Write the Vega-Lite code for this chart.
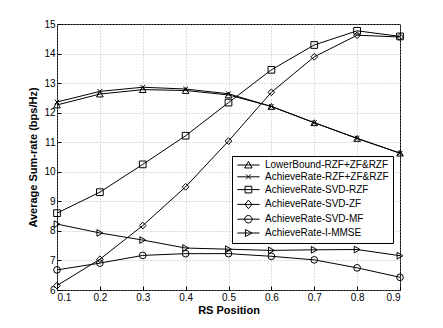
{
  "$schema": "https://vega.github.io/schema/vega-lite/v6.json",
  "width": 343,
  "height": 266,
  "autosize": {"type": "none"},
  "padding": {"left": 57, "top": 24, "right": 43, "bottom": 38},
  "background": "white",
  "config": {
    "font": "Liberation Sans",
    "view": {"stroke": "black", "strokeWidth": 1},
    "axis": {
      "labelFont": "Liberation Sans",
      "labelFontSize": 10,
      "labelColor": "black",
      "titleFont": "Liberation Sans",
      "titleFontSize": 11,
      "titleFontWeight": "bold",
      "titleColor": "black",
      "domain": false,
      "tickColor": "black",
      "tickSize": -4,
      "grid": true,
      "gridColor": "#aaaaaa",
      "gridDash": [1, 2],
      "gridWidth": 0.8
    }
  },
  "data": {
    "values": [
      {"x": 0.1, "s": "LowerBound-RZF+ZF&RZF", "y": 12.26},
      {"x": 0.2, "s": "LowerBound-RZF+ZF&RZF", "y": 12.63},
      {"x": 0.3, "s": "LowerBound-RZF+ZF&RZF", "y": 12.78},
      {"x": 0.4, "s": "LowerBound-RZF+ZF&RZF", "y": 12.75},
      {"x": 0.5, "s": "LowerBound-RZF+ZF&RZF", "y": 12.6},
      {"x": 0.6, "s": "LowerBound-RZF+ZF&RZF", "y": 12.21},
      {"x": 0.7, "s": "LowerBound-RZF+ZF&RZF", "y": 11.66},
      {"x": 0.8, "s": "LowerBound-RZF+ZF&RZF", "y": 11.13},
      {"x": 0.9, "s": "LowerBound-RZF+ZF&RZF", "y": 10.63},
      {"x": 0.1, "s": "AchieveRate-RZF+ZF&RZF", "y": 12.36},
      {"x": 0.2, "s": "AchieveRate-RZF+ZF&RZF", "y": 12.72},
      {"x": 0.3, "s": "AchieveRate-RZF+ZF&RZF", "y": 12.86},
      {"x": 0.4, "s": "AchieveRate-RZF+ZF&RZF", "y": 12.8},
      {"x": 0.5, "s": "AchieveRate-RZF+ZF&RZF", "y": 12.64},
      {"x": 0.6, "s": "AchieveRate-RZF+ZF&RZF", "y": 12.21},
      {"x": 0.7, "s": "AchieveRate-RZF+ZF&RZF", "y": 11.66},
      {"x": 0.8, "s": "AchieveRate-RZF+ZF&RZF", "y": 11.13},
      {"x": 0.9, "s": "AchieveRate-RZF+ZF&RZF", "y": 10.63},
      {"x": 0.1, "s": "AchieveRate-SVD-RZF", "y": 8.6},
      {"x": 0.2, "s": "AchieveRate-SVD-RZF", "y": 9.31},
      {"x": 0.3, "s": "AchieveRate-SVD-RZF", "y": 10.25},
      {"x": 0.4, "s": "AchieveRate-SVD-RZF", "y": 11.22},
      {"x": 0.5, "s": "AchieveRate-SVD-RZF", "y": 12.34},
      {"x": 0.6, "s": "AchieveRate-SVD-RZF", "y": 13.45},
      {"x": 0.7, "s": "AchieveRate-SVD-RZF", "y": 14.29},
      {"x": 0.8, "s": "AchieveRate-SVD-RZF", "y": 14.77},
      {"x": 0.9, "s": "AchieveRate-SVD-RZF", "y": 14.58},
      {"x": 0.1, "s": "AchieveRate-SVD-ZF", "y": 6.15},
      {"x": 0.2, "s": "AchieveRate-SVD-ZF", "y": 7.04},
      {"x": 0.3, "s": "AchieveRate-SVD-ZF", "y": 8.18},
      {"x": 0.4, "s": "AchieveRate-SVD-ZF", "y": 9.49},
      {"x": 0.5, "s": "AchieveRate-SVD-ZF", "y": 11.04},
      {"x": 0.6, "s": "AchieveRate-SVD-ZF", "y": 12.69},
      {"x": 0.7, "s": "AchieveRate-SVD-ZF", "y": 13.89},
      {"x": 0.8, "s": "AchieveRate-SVD-ZF", "y": 14.62},
      {"x": 0.9, "s": "AchieveRate-SVD-ZF", "y": 14.56},
      {"x": 0.1, "s": "AchieveRate-SVD-MF", "y": 6.68},
      {"x": 0.2, "s": "AchieveRate-SVD-MF", "y": 6.91},
      {"x": 0.3, "s": "AchieveRate-SVD-MF", "y": 7.17},
      {"x": 0.4, "s": "AchieveRate-SVD-MF", "y": 7.23},
      {"x": 0.5, "s": "AchieveRate-SVD-MF", "y": 7.23},
      {"x": 0.6, "s": "AchieveRate-SVD-MF", "y": 7.14},
      {"x": 0.7, "s": "AchieveRate-SVD-MF", "y": 7.02},
      {"x": 0.8, "s": "AchieveRate-SVD-MF", "y": 6.75},
      {"x": 0.9, "s": "AchieveRate-SVD-MF", "y": 6.43},
      {"x": 0.1, "s": "AchieveRate-I-MMSE", "y": 8.23},
      {"x": 0.2, "s": "AchieveRate-I-MMSE", "y": 7.93},
      {"x": 0.3, "s": "AchieveRate-I-MMSE", "y": 7.69},
      {"x": 0.4, "s": "AchieveRate-I-MMSE", "y": 7.42},
      {"x": 0.5, "s": "AchieveRate-I-MMSE", "y": 7.38},
      {"x": 0.6, "s": "AchieveRate-I-MMSE", "y": 7.34},
      {"x": 0.7, "s": "AchieveRate-I-MMSE", "y": 7.36},
      {"x": 0.8, "s": "AchieveRate-I-MMSE", "y": 7.37},
      {"x": 0.9, "s": "AchieveRate-I-MMSE", "y": 7.16}
    ]
  },
  "encoding": {
    "x": {
      "field": "x", "type": "quantitative",
      "scale": {"domain": [0.1, 0.9], "nice": false, "zero": false},
      "axis": {"title": "RS Position", "values": [0.1, 0.2, 0.3, 0.4, 0.5, 0.6, 0.7, 0.8, 0.9], "format": ".1f", "labelPadding": 6, "titlePadding": 2}
    },
    "y": {
      "field": "y", "type": "quantitative",
      "scale": {"domain": [6, 15], "nice": false, "zero": false},
      "axis": {"title": "Average Sum-rate (bps/Hz)", "values": [6, 7, 8, 9, 10, 11, 12, 13, 14, 15], "labelPadding": 6, "titlePadding": 5}
    }
  },
  "layer": [
    {
      "mark": {"type": "line", "color": "black", "strokeWidth": 1},
      "encoding": {"detail": {"field": "s"}}
    },
    {
      "mark": {"type": "point", "filled": false, "color": "black", "strokeWidth": 1, "size": 45, "opacity": 1},
      "encoding": {
        "shape": {
          "field": "s", "type": "nominal",
          "scale": {
            "domain": ["LowerBound-RZF+ZF&RZF", "AchieveRate-RZF+ZF&RZF", "AchieveRate-SVD-RZF", "AchieveRate-SVD-ZF", "AchieveRate-SVD-MF", "AchieveRate-I-MMSE"],
            "range": ["triangle-up", "M-0.7,-0.7L0.7,0.7M0.7,-0.7L-0.7,0.7", "square", "diamond", "circle", "triangle-right"]
          },
          "legend": null
        }
      }
    },
    {
      "mark": {"type": "point", "filled": false, "color": "black", "strokeWidth": 1, "size": 55, "opacity": 0},
      "encoding": {
        "shape": {
          "field": "s", "type": "nominal",
          "scale": {
            "domain": ["LowerBound-RZF+ZF&RZF", "AchieveRate-RZF+ZF&RZF", "AchieveRate-SVD-RZF", "AchieveRate-SVD-ZF", "AchieveRate-SVD-MF", "AchieveRate-I-MMSE"],
            "range": [
              "M-1,0H5M2,-0.95L3,0.8L1,0.8Z",
              "M-1,0H5M1.35,-0.65L2.65,0.65M2.65,-0.65L1.35,0.65",
              "M-1,0H5M1.1,-0.9H2.9V0.9H1.1Z",
              "M-1,0H5M2,-1.15L2.95,0L2,1.15L1.05,0Z",
              "M-1,0H5M3,0A1,1,0,1,1,1,0A1,1,0,1,1,3,0Z",
              "M-1,0H5M1.2,-0.95L2.95,0L1.2,0.95Z"
            ]
          },
          "legend": {
            "title": null,
            "orient": "none",
            "legendX": 175,
            "legendY": 132,
            "direction": "vertical",
            "strokeColor": "black",
            "fillColor": "white",
            "padding": 4,
            "symbolSize": 55,
            "symbolStrokeWidth": 1,
            "symbolStrokeColor": "black",
            "symbolOpacity": 1,
            "labelFont": "Liberation Sans",
            "labelFontSize": 10,
            "labelColor": "black",
            "labelOffset": 19,
            "rowPadding": 1.8,
            "labelLimit": 300,
            "encode": {"symbols": {"update": {"opacity": {"value": 1}, "stroke": {"value": "black"}, "fill": {"value": "transparent"}}}}
          }
        }
      }
    }
  ],
  "resolve": {"scale": {"shape": "independent"}, "legend": {"shape": "independent"}}
}
